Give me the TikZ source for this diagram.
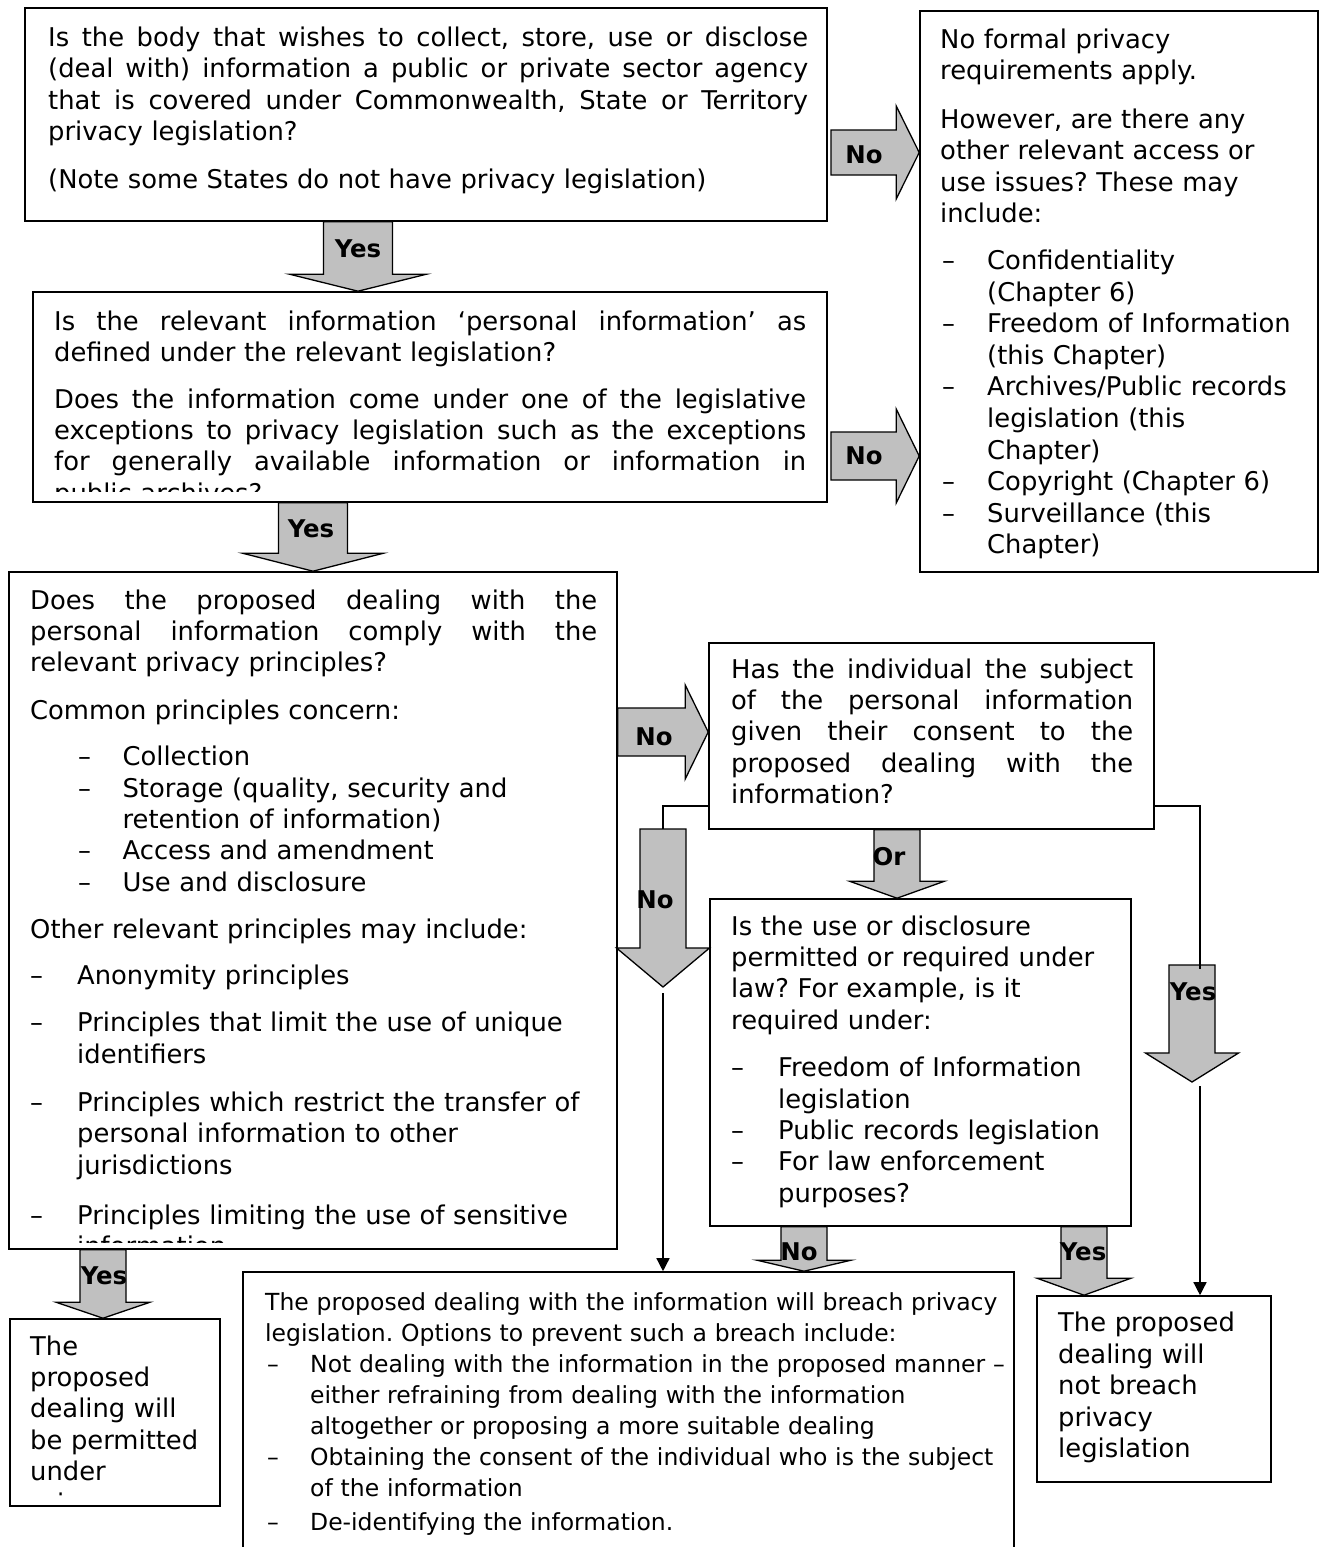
\documentclass[tikz,border=0pt]{standalone}
\usepackage{fontspec}
\setmainfont{DejaVu Sans}
\usetikzlibrary{arrows.meta,calc}
\setlength{\parskip}{0pt}
\frenchspacing

% one justified line of a given width
\newcommand\jline[2]{\noindent\hbox to #1pt{\spaceskip=0pt\xspaceskip=0pt #2}\par}
% extra space between paragraphs
\newcommand\pgap[1]{\vspace{#1pt}}
% dash item: dash offset, text offset, text
\newcommand\ditem[3]{\noindent\makebox[#2pt][l]{\hspace*{#1pt}–}#3\par}
% continuation line of a dash item
\newcommand\dcont[2]{\noindent\hspace*{#1pt}#2\par}

% grey block arrow pointing down: start, tip, shaft half width, head half width, head length
\newcommand\bdown[5]{%
  \draw[barrow] let \p1=#1, \p2=#2 in
    (\x1-#3pt,\y1) -- (\x1-#3pt,\y2+#5pt) -- (\x1-#4pt,\y2+#5pt) -- (\x1,\y2)
    -- (\x1+#4pt,\y2+#5pt) -- (\x1+#3pt,\y2+#5pt) -- (\x1+#3pt,\y1) -- cycle;}
% grey block arrow pointing right
\newcommand\bright[5]{%
  \draw[barrow] let \p1=#1, \p2=#2 in
    (\x1,\y1+#3pt) -- (\x2-#5pt,\y1+#3pt) -- (\x2-#5pt,\y1+#4pt) -- (\x2,\y1)
    -- (\x2-#5pt,\y1-#4pt) -- (\x2-#5pt,\y1-#3pt) -- (\x1,\y1-#3pt) -- cycle;}

\definecolor{arrowgrey}{HTML}{C0C0C0}

\begin{document}
\begin{tikzpicture}[x=1pt,y=-1pt,
  box/.style={draw, line width=1.6pt, fill=white, inner sep=0pt, rectangle},
  txt/.style={anchor=base west, inner sep=0pt,
    font=\fontsize{25.8}{31.4}\selectfont},
  barrow/.style={draw, fill=arrowgrey, line width=1.3pt, line join=miter},
  conn/.style={draw, line width=1.4pt},
  lbl/.style={anchor=base, inner sep=0pt, font=\fontsize{24.4}{28}\selectfont\bfseries},
  tip/.style={-{Triangle[length=13pt,width=13pt]}}]

\useasboundingbox (0,0) rectangle (1324,1547);
\fill[white] (0,0) rectangle (1324,1547);
\clip (0,0) rectangle (1324,1547);

% question and outcome boxes
\node[box, minimum width=802, minimum height=213] (q1) at (426,114.5) {};
\node[box, minimum width=794, minimum height=210] (q2) at (430,397) {};
\node[box, minimum width=398, minimum height=561] (q3) at (1119,291.5) {};
\node[box, minimum width=608, minimum height=677] (q4) at (313,910.5) {};
\node[box, minimum width=210, minimum height=187] (q5) at (115,1412.5) {};
\node[box, minimum width=445, minimum height=186] (q6) at (931.5,736) {};
\node[box, minimum width=421, minimum height=327] (q8) at (920.5,1062.5) {};
\node[box, minimum width=771, minimum height=288] (q7) at (628.5,1416) {};
\node[box, minimum width=234, minimum height=186] (q9) at (1154,1389) {};

% texts
\node[txt, text width=760] (t1) at (48,46.5) {%
\jline{760}{Is the body that wishes to collect, store, use or disclose}
\jline{760}{(deal with) information a public or private sector agency}
\jline{760}{that is covered under Commonwealth, State or Territory}
privacy legislation?\par
\pgap{16.5}
(Note some States do not have privacy legislation)\par};

\begin{scope}
\clip (33,292) rectangle (827,491);
\node[txt, text width=752] (t2) at (54,330) {%
\jline{752}{Is the relevant information ‘personal information’ as}
defined under the relevant legislation?\par
\pgap{15.3}
\jline{752}{Does the information come under one of the legislative}
\jline{752}{exceptions to privacy legislation such as the exceptions}
\jline{752}{for generally available information or information in}
public archives?\par};
\end{scope}

\node[txt, text width=370, font=\fontsize{25.8}{31.6}\selectfont] (t3) at (940,48) {%
No formal privacy\par
requirements apply.\par
\pgap{16.8}
However, are there any\par
other relevant access or\par
use issues? These may\par
include:\par
\pgap{15.1}
\ditem{2}{47}{Confidentiality}
\dcont{47}{(Chapter 6)}
\ditem{2}{47}{Freedom of Information}
\dcont{47}{(this Chapter)}
\ditem{2}{47}{Archives/Public records}
\dcont{47}{legislation (this}
\dcont{47}{Chapter)}
\ditem{2}{47}{Copyright (Chapter 6)}
\ditem{2}{47}{Surveillance (this}
\dcont{47}{Chapter)}};

\begin{scope}
\clip (9,572) rectangle (617,1242);
\node[txt, text width=567] (t4) at (30,609) {%
\jline{567}{Does the proposed dealing with the}
\jline{567}{personal information comply with the}
relevant privacy principles?\par
\pgap{16.5}
Common principles concern:\par
\pgap{14.6}
\ditem{48}{92.4}{Collection}
\ditem{48}{92.4}{Storage (quality, security and}
\dcont{92.4}{retention of information)}
\ditem{48}{92.4}{Access and amendment}
\ditem{48}{92.4}{Use and disclosure}
\pgap{15.5}
Other relevant principles may include:\par
\pgap{15}
\ditem{0}{47}{Anonymity principles}
\pgap{15.6}
\ditem{0}{47}{Principles that limit the use of unique}
\dcont{47}{identifiers}
\pgap{16.8}
\ditem{0}{47}{Principles which restrict the transfer of}
\dcont{47}{personal information to other}
\dcont{47}{jurisdictions}
\pgap{18.6}
\ditem{0}{47}{Principles limiting the use of sensitive}
\dcont{47}{information}};
\end{scope}

\begin{scope}
\clip (10,1319) rectangle (220,1496);
\node[txt, text width=180] (t5) at (30,1355) {%
The\par proposed\par dealing will\par be permitted\par under\par privacy\par legislation\par};
\end{scope}

\node[txt, text width=402] (t6) at (731,678) {%
\jline{402}{Has the individual the subject}
\jline{402}{of the personal information}
\jline{402}{given their consent to the}
\jline{402}{proposed dealing with the}
information?\par};

\node[txt, text width=400] (t8) at (731,935) {%
Is the use or disclosure\par
permitted or required under\par
law? For example, is it\par
required under:\par
\pgap{16}
\ditem{0}{47}{Freedom of Information}
\dcont{47}{legislation}
\ditem{0}{47}{Public records legislation}
\ditem{0}{47}{For law enforcement}
\dcont{47}{purposes?}};

\node[txt, text width=740, font=\fontsize{23.5}{31.1}\selectfont] (t7) at (265,1310) {%
The proposed dealing with the information will breach privacy\par
legislation. Options to prevent such a breach include:\par
\ditem{2}{45}{Not dealing with the information in the proposed manner –}
\dcont{45}{either refraining from dealing with the information}
\dcont{45}{altogether or proposing a more suitable dealing}
\ditem{2}{45}{Obtaining the consent of the individual who is the subject}
\dcont{45}{of the information}
\pgap{2.5}
\ditem{2}{45}{De-identifying the information.}};

\node[txt, text width=200, font=\fontsize{25.8}{31.5}\selectfont] (t9) at (1058,1331.7) {%
The proposed\par dealing will\par not breach\par privacy\par legislation\par};

% free ends of the consent-box connectors
\coordinate (n7top) at (663,829);
\coordinate (n8top) at (1200,969);

% block arrows
\bdown{(358,0 |- q1.south)}{(358,0 |- q2.north)}{34.5}{68.5}{17}
\bright{(831,152.5)}{(q3.west |- 0,152.5)}{22.5}{46.5}{23}
\bdown{(313,0 |- q2.south)}{(313,0 |- q4.north)}{34.5}{70.5}{18}
\bright{(831,456)}{(q3.west |- 0,456)}{24}{47}{23}
\bright{(q4.east |- 0,732)}{(q6.west |- 0,732)}{24}{47}{23}
\bdown{(897,0 |- q6.south)}{(897,0 |- q8.north)}{23}{47.5}{17}
\bdown{(n7top)}{(663,987)}{23}{46.5}{39}
\bdown{(1192,965)}{(1192,1082)}{23}{46.5}{29}
\bdown{(804,0 |- q8.south)}{(804,0 |- q7.north)}{23}{47}{11}
\bdown{(1084,0 |- q8.south)}{(1084,0 |- q9.north)}{23}{47}{17}
\bdown{(103,0 |- q4.south)}{(103,0 |- q5.north)}{23}{47}{16}

% thin connectors
\draw[conn] (q6.west |- 0,806) -| (n7top);
\draw[conn] (q6.east |- 0,806) -| (n8top);
\draw[conn, tip] (663,993) -- (663,0 |- q7.north);
\draw[conn, tip] (1200,1086) -- (1200,0 |- q9.north);

% arrow labels
\node[lbl] (l1) at (358,257) {Yes};
\node[lbl] (l2) at (864,163) {No};
\node[lbl] (l3) at (311,537) {Yes};
\node[lbl] (l4) at (864,464) {No};
\node[lbl] (l5) at (654,745) {No};
\node[lbl] (l6) at (889,865) {Or};
\node[lbl] (l7) at (655,908) {No};
\node[lbl] (l8) at (1193,1000) {Yes};
\node[lbl] (l9) at (799,1260) {No};
\node[lbl] (l10) at (1083,1260) {Yes};
\node[lbl] (l11) at (104,1284) {Yes};
\end{tikzpicture}
\end{document}
